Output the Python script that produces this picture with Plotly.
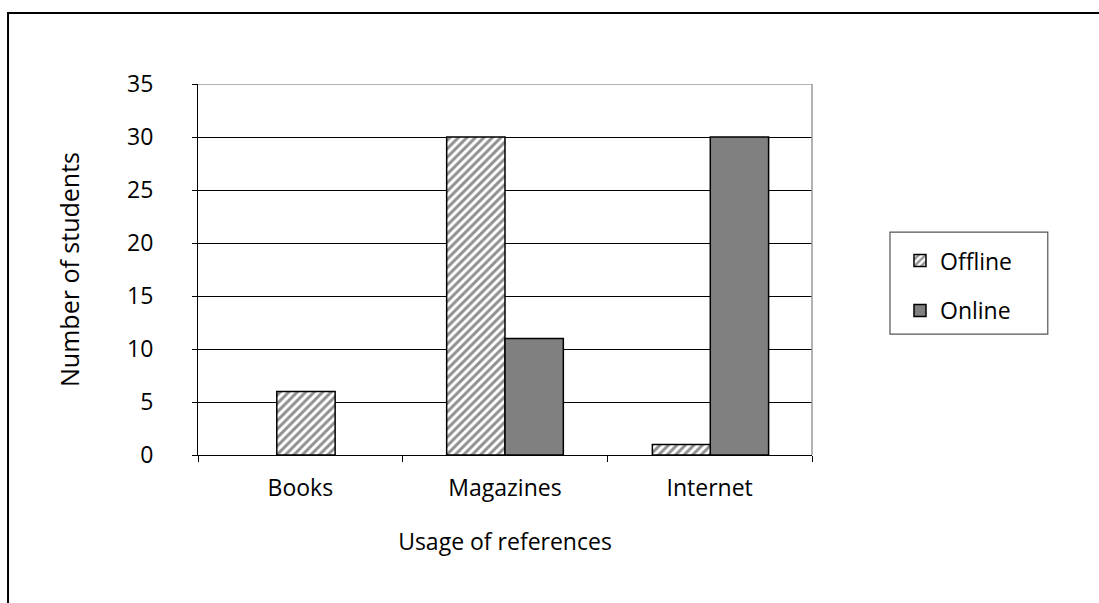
import plotly.graph_objects as go

categories = ["Books", "Magazines", "Internet"]
offline = [6, 30, 1]
online = [None, 11, 30]
y_ticks = [0, 5, 10, 15, 20, 25, 30, 35]

FONT = "Open Sans"
BAR_W = 0.285

fig = go.Figure()
fig.add_trace(go.Bar(
    name="Offline", x=categories, y=offline,
    width=BAR_W, offset=[-0.115, -0.285, -0.28],
    marker=dict(color="white",
                line=dict(color="black", width=1.5),
                pattern=dict(shape="/", size=6, solidity=0.5,
                             fgcolor="#222222", bgcolor="white")),
    legendgroup="a",
))
fig.add_trace(go.Bar(
    name="Online", x=categories, y=online,
    width=BAR_W, offset=[0.0, 0.0, 0.003],
    marker=dict(color="#808080", line=dict(color="black", width=1.5)),
    legendgroup="b",
))

fig.update_layout(
    width=1099, height=603,
    margin=dict(l=198, r=287, t=84, b=148, pad=0),
    paper_bgcolor="white", plot_bgcolor="white",
    barmode="overlay",
    font=dict(family=FONT, size=23, color="black"),
    showlegend=True,
    legend=dict(
        x=1.1433, y=0.582, xanchor="left", yanchor="top",
        borderwidth=0, bgcolor="rgba(0,0,0,0)",
        font=dict(family=FONT, size=23, color="black"),
        traceorder="grouped", tracegroupgap=17,
        itemwidth=30,
    ),
    xaxis=dict(
        type="category", tickson="boundaries",
        ticks="outside", ticklen=6, tickcolor="black", tickwidth=1,
        showline=True, linecolor="black", linewidth=1.2,
        showgrid=False, zeroline=False,
        ticklabelstandoff=12,
        title=dict(text="Usage of references", standoff=32,
                   font=dict(family=FONT, size=23)),
        range=[-0.5, 2.5],
    ),
    yaxis=dict(
        range=[0, 35], tickvals=y_ticks,
        ticks="outside", ticklen=5, tickcolor="black", tickwidth=1,
        showline=True, linecolor="black", linewidth=1.2,
        showgrid=True, gridcolor="black", gridwidth=1,
        zeroline=False,
        ticklabelstandoff=34,
        title=dict(text="Number of students", standoff=40,
                   font=dict(family=FONT, size=25)),
    ),
)

# plot-area top and right edges (gray)
fig.add_shape(type="line", xref="paper", yref="y", x0=0, x1=1, y0=35, y1=35,
              line=dict(color="#9a9a9a", width=1.5), layer="above")
fig.add_shape(type="line", xref="paper", yref="paper", x0=1, x1=1, y0=0, y1=1,
              line=dict(color="#9a9a9a", width=1.5), layer="above")
# legend frame
fig.add_shape(type="rect", xref="paper", yref="paper",
              x0=1.127, x1=1.384, y0=0.326, y1=0.601,
              line=dict(color="#555555", width=1.2), layer="above")
# outer chart frame
fig.add_shape(type="rect", xref="paper", yref="paper",
              x0=-0.3094, x1=1.475, y0=-0.41, y1=1.1914,
              line=dict(color="black", width=2), layer="above")

fig.write_html("out.html")
